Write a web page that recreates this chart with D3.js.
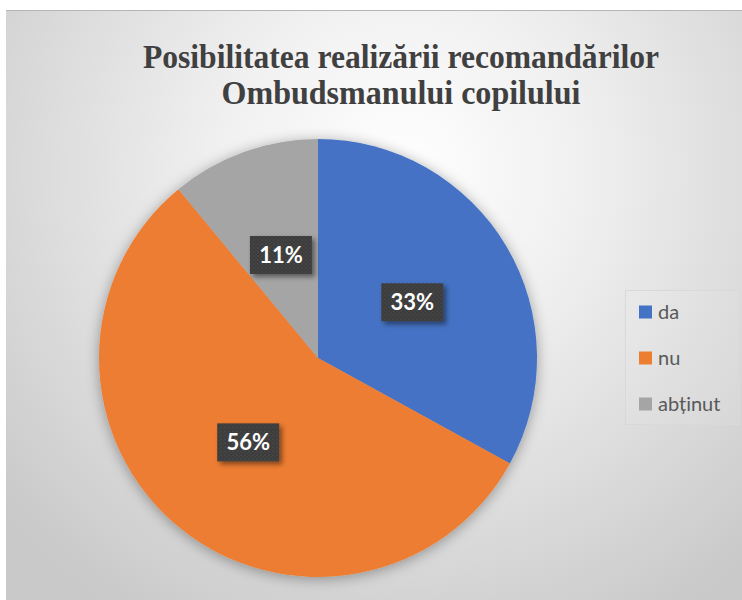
<!DOCTYPE html>
<html>
<head>
<meta charset="utf-8">
<script src="https://cdn.jsdelivr.net/npm/d3@7"></script>
<style>
  body { margin: 0; background: #fff; }
  svg { display: block; }
</style>
</head>
<body>
<script>
// chart data
const categories = ["da", "nu", "abținut"];
const values = [33, 56, 11];
const labels = ["33%", "56%", "11%"];
const colors = ["#4472C4", "#ED7D31", "#A5A5A5"];
const titleLines = ["Posibilitatea realizării recomandărilor", "Ombudsmanului copilului"];

const W = 742, H = 600;
const svg = d3.select("body").append("svg")
  .attr("width", W)
  .attr("height", H);

const defs = svg.append("defs");

// background gradient
const bg = defs.append("radialGradient")
  .attr("id", "bg")
  .attr("gradientUnits", "userSpaceOnUse")
  .attr("cx", 400).attr("cy", 170).attr("r", 520);
bg.append("stop").attr("offset", "0%").attr("stop-color", "#ffffff");
bg.append("stop").attr("offset", "35%").attr("stop-color", "#f0f0f0");
bg.append("stop").attr("offset", "100%").attr("stop-color", "#c9c9c9");

// soft shadow round the pie
const pieShadow = defs.append("filter").attr("id", "pieShadow")
  .attr("x", "-20%").attr("y", "-20%").attr("width", "140%").attr("height", "140%");
pieShadow.append("feDropShadow")
  .attr("dx", 0).attr("dy", 2)
  .attr("stdDeviation", 7)
  .attr("flood-color", "#000").attr("flood-opacity", 0.35);

// shadow for the label boxes
const boxShadow = defs.append("filter").attr("id", "boxShadow")
  .attr("x", "-30%").attr("y", "-30%").attr("width", "160%").attr("height", "160%");
boxShadow.append("feDropShadow")
  .attr("dx", 3).attr("dy", 3)
  .attr("stdDeviation", 2.5)
  .attr("flood-color", "#000").attr("flood-opacity", 0.45);

// dotted texture for the label boxes
const dots = defs.append("pattern")
  .attr("id", "dots")
  .attr("width", 4).attr("height", 4)
  .attr("patternUnits", "userSpaceOnUse");
dots.append("rect").attr("width", 4).attr("height", 4).attr("fill", "#3a3a3a");
dots.append("circle").attr("cx", 1).attr("cy", 1).attr("r", 0.8).attr("fill", "#555");
dots.append("circle").attr("cx", 3).attr("cy", 3).attr("r", 0.8).attr("fill", "#4d4d4d");

// chart area
svg.append("rect")
  .attr("x", 6).attr("y", 10)
  .attr("width", W - 6).attr("height", H - 10)
  .attr("fill", "url(#bg)");
svg.append("line")
  .attr("x1", 6).attr("x2", W)
  .attr("y1", 10.5).attr("y2", 10.5)
  .attr("stroke", "#b5b5b5").attr("stroke-width", 1);

// title
const titleLen = [516, 359];
svg.append("g").selectAll("text")
  .data(titleLines)
  .join("text")
  .attr("x", 401)
  .attr("y", (d, i) => 68 + i * 36)
  .attr("text-anchor", "middle")
  .attr("textLength", (d, i) => titleLen[i])
  .attr("lengthAdjust", "spacingAndGlyphs")
  .style("font-family", "'Liberation Serif', 'Times New Roman', serif")
  .style("font-weight", "bold")
  .style("font-size", "34px")
  .style("fill", "#404040")
  .text(d => d);

// pie
const cx = 318, cy = 358, radius = 219;
const data = categories.map((c, i) => ({ cat: c, value: values[i], label: labels[i], color: colors[i] }));

const pie = d3.pie().sort(null).value(d => d.value);
const arc = d3.arc().innerRadius(0).outerRadius(radius);
const labelArc = d3.arc().innerRadius(radius * 0.5).outerRadius(radius * 0.5);

const g = svg.append("g").attr("transform", `translate(${cx},${cy})`);
const arcs = pie(data);

g.append("g")
  .attr("filter", "url(#pieShadow)")
  .selectAll("path")
  .data(arcs)
  .join("path")
  .attr("d", arc)
  .attr("fill", d => d.data.color);

// data labels
const lab = g.append("g").selectAll("g")
  .data(arcs)
  .join("g")
  .attr("transform", d => `translate(${labelArc.centroid(d)})`);

lab.append("rect")
  .attr("x", -31).attr("y", -19)
  .attr("width", 62).attr("height", 38)
  .attr("fill", "url(#dots)")
  .attr("filter", "url(#boxShadow)");

lab.append("text")
  .attr("text-anchor", "middle")
  .attr("dy", "0.36em")
  .style("font-family", "Lato, 'Open Sans', sans-serif")
  .style("font-weight", "bold")
  .style("font-size", "22px")
  .style("fill", "#ffffff")
  .text(d => d.data.label);

// legend
const legend = svg.append("g");
legend.append("rect")
  .attr("x", 625.5).attr("y", 290.5)
  .attr("width", 114).attr("height", 134)
  .attr("fill", "rgba(255,255,255,0.08)")
  .attr("stroke", "#d9d9d9");

const item = legend.selectAll("g.item")
  .data(data)
  .join("g")
  .attr("class", "item")
  .attr("transform", (d, i) => `translate(639,${312 + i * 46})`);

item.append("rect")
  .attr("x", 0).attr("y", -6.5)
  .attr("width", 13).attr("height", 13)
  .attr("fill", d => d.color);

item.append("text")
  .attr("x", 19)
  .attr("dy", "0.35em")
  .style("font-family", "Lato, 'Open Sans', sans-serif")
  .style("font-size", "20px")
  .style("fill", "#595959")
  .text(d => d.cat);
</script>
</body>
</html>
